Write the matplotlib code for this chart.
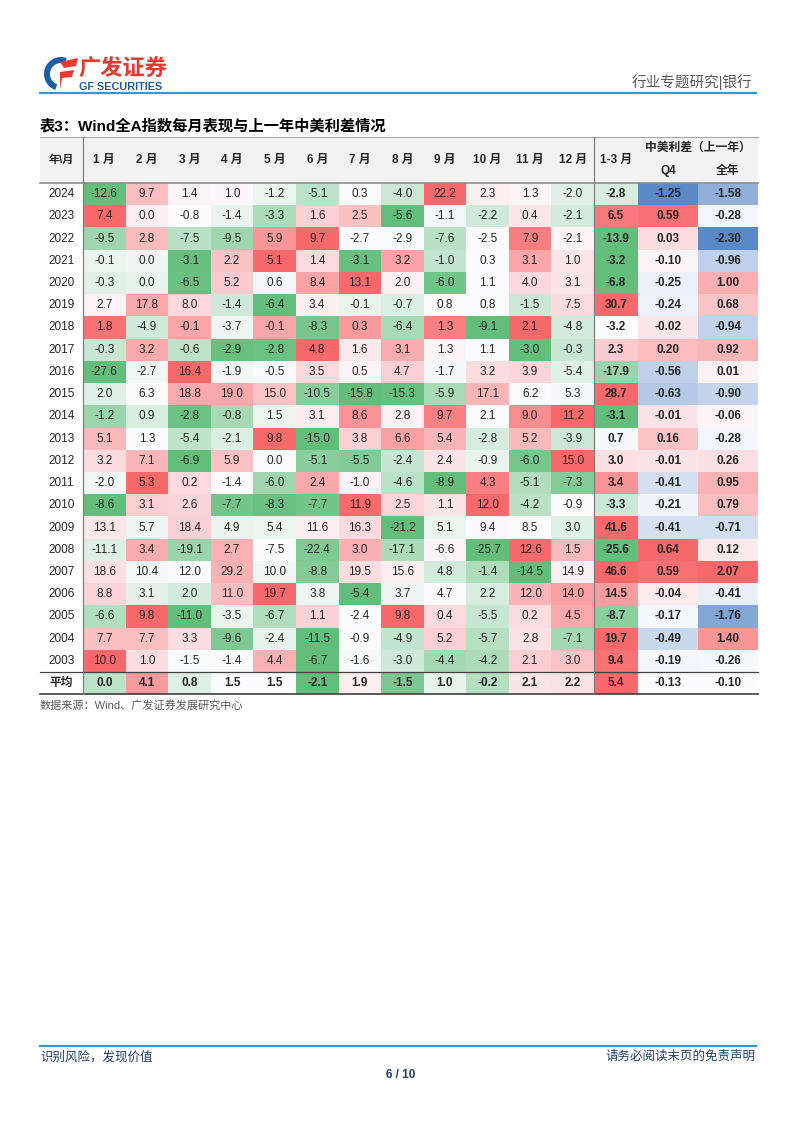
import matplotlib
matplotlib.use("Agg")
import matplotlib.pyplot as plt
import numpy as np
from matplotlib.patches import Rectangle, Wedge, Polygon

plt.rcParams["font.family"] = ["Liberation Sans", "Noto Sans CJK SC"]

# 数据
years = [2024, 2023, 2022, 2021, 2020, 2019, 2018, 2017, 2016, 2015, 2014,
         2013, 2012, 2011, 2010, 2009, 2008, 2007, 2006, 2005, 2004, 2003]
month_labels = [f"{m} 月" for m in range(1, 13)]

monthly = [
    [-12.6, 9.7, 1.4, 1.0, -1.2, -5.1, 0.3, -4.0, 22.2, 2.3, 1.3, -2.0],
    [7.4, 0.0, -0.8, -1.4, -3.3, 1.6, 2.5, -5.6, -1.1, -2.2, 0.4, -2.1],
    [-9.5, 2.8, -7.5, -9.5, 5.9, 9.7, -2.7, -2.9, -7.6, -2.5, 7.9, -2.1],
    [-0.1, 0.0, -3.1, 2.2, 5.1, 1.4, -3.1, 3.2, -1.0, 0.3, 3.1, 1.0],
    [-0.3, 0.0, -6.5, 5.2, 0.6, 8.4, 13.1, 2.0, -6.0, 1.1, 4.0, 3.1],
    [2.7, 17.8, 8.0, -1.4, -6.4, 3.4, -0.1, -0.7, 0.8, 0.8, -1.5, 7.5],
    [1.8, -4.9, -0.1, -3.7, -0.1, -8.3, 0.3, -6.4, 1.3, -9.1, 2.1, -4.8],
    [-0.3, 3.2, -0.6, -2.9, -2.8, 4.8, 1.6, 3.1, 1.3, 1.1, -3.0, -0.3],
    [-27.6, -2.7, 16.4, -1.9, -0.5, 3.5, 0.5, 4.7, -1.7, 3.2, 3.9, -5.4],
    [2.0, 6.3, 18.8, 19.0, 15.0, -10.5, -15.8, -15.3, -5.9, 17.1, 6.2, 5.3],
    [-1.2, 0.9, -2.8, -0.8, 1.5, 3.1, 8.6, 2.8, 9.7, 2.1, 9.0, 11.2],
    [5.1, 1.3, -5.4, -2.1, 9.8, -15.0, 3.8, 6.6, 5.4, -2.8, 5.2, -3.9],
    [3.2, 7.1, -6.9, 5.9, 0.0, -5.1, -5.5, -2.4, 2.4, -0.9, -6.0, 15.0],
    [-2.0, 5.3, 0.2, -1.4, -6.0, 2.4, -1.0, -4.6, -8.9, 4.3, -5.1, -7.3],
    [-8.6, 3.1, 2.6, -7.7, -8.3, -7.7, 11.9, 2.5, 1.1, 12.0, -4.2, -0.9],
    [13.1, 5.7, 18.4, 4.9, 5.4, 11.6, 16.3, -21.2, 5.1, 9.4, 8.5, 3.0],
    [-11.1, 3.4, -19.1, 2.7, -7.5, -22.4, 3.0, -17.1, -6.6, -25.7, 12.6, 1.5],
    [18.6, 10.4, 12.0, 29.2, 10.0, -8.8, 19.5, 15.6, 4.8, -1.4, -14.5, 14.9],
    [8.8, 3.1, 2.0, 11.0, 19.7, 3.8, -5.4, 3.7, 4.7, 2.2, 12.0, 14.0],
    [-6.6, 9.8, -11.0, -3.5, -6.7, 1.1, -2.4, 9.8, 0.4, -5.5, 0.2, 4.5],
    [7.7, 7.7, 3.3, -9.6, -2.4, -11.5, -0.9, -4.9, 5.2, -5.7, 2.8, -7.1],
    [10.0, 1.0, -1.5, -1.4, 4.4, -6.7, -1.6, -3.0, -4.4, -4.2, 2.1, 3.0],
]
q1 = [-2.8, 6.5, -13.9, -3.2, -6.8, 30.7, -3.2, 2.3, -17.9, 28.7, -3.1,
      0.7, 3.0, 3.4, -3.3, 41.6, -25.6, 46.6, 14.5, -8.7, 19.7, 9.4]
spread_q4 = [-1.25, 0.59, 0.03, -0.10, -0.25, -0.24, -0.02, 0.20, -0.56, -0.63, -0.01,
             0.16, -0.01, -0.41, -0.21, -0.41, 0.64, 0.59, -0.04, -0.17, -0.49, -0.19]
spread_year = [-1.58, -0.28, -2.30, -0.96, 1.00, 0.68, -0.94, 0.92, 0.01, -0.90, -0.06,
               -0.28, 0.26, 0.95, 0.79, -0.71, 0.12, 2.07, -0.41, -1.76, 1.40, -0.26]
avg_monthly = [0.0, 4.1, 0.8, 1.5, 1.5, -2.1, 1.9, -1.5, 1.0, -0.2, 2.1, 2.2]
avg_q1 = 5.4
avg_q4 = -0.13
avg_year = -0.10

GREEN = np.array([99, 190, 123]) / 255
WHITE = np.array([252, 252, 255]) / 255
RED = np.array([248, 105, 107]) / 255
BLUE = np.array([90, 138, 198]) / 255


def scale_colors(vals, low):
    """Excel 式三色刻度：最小值 -> low，中位数 -> 白，最大值 -> 红"""
    vals = np.asarray(vals, dtype=float)
    lo, mid, hi = vals.min(), np.percentile(vals, 50), vals.max()
    out = []
    for v in vals:
        if v <= mid:
            t = 0 if mid == lo else (mid - v) / (mid - lo)
            out.append(WHITE + (low - WHITE) * t)
        else:
            t = 0 if hi == mid else (v - mid) / (hi - mid)
            out.append(WHITE + (RED - WHITE) * t)
    return out


# 布局（像素）
W, H = 802, 1133
fig = plt.figure(figsize=(W / 100, H / 100), dpi=100)
ax = fig.add_axes([0, 0, 1, 1])
ax.set_xlim(0, W)
ax.set_ylim(H, 0)
ax.axis("off")

x_left, x_year = 40, 83
month_w = (594 - x_year) / 12
col_edges = [x_left, x_year] + [x_year + month_w * (i + 1) for i in range(12)] + [638, 698, 758]
y_top, y_head = 137, 183
row_h = (672 - y_head) / len(years)
row_tops = [y_head + row_h * i for i in range(len(years) + 1)]
y_bottom = row_tops[-1] + 22

TXT = "#262626"
FS = 8.5
HFS = 8.5

# 表头
ax.add_patch(Rectangle((x_left, y_top), col_edges[-1] - x_left, y_head - y_top,
                       facecolor="#F2F2F2", edgecolor="none"))
head_y = (y_top + y_head) / 2
ax.text((col_edges[0] + col_edges[1]) / 2, head_y, "年\\月", ha="center", va="center",
        fontsize=HFS - 0.5, fontweight="bold", color=TXT)
for i, lab in enumerate(month_labels):
    ax.text((col_edges[i + 1] + col_edges[i + 2]) / 2, head_y, lab, ha="center",
            va="center", fontsize=HFS, fontweight="bold", color=TXT)
ax.text((col_edges[13] + col_edges[14]) / 2, head_y, "1-3 月", ha="center", va="center",
        fontsize=HFS, fontweight="bold", color=TXT)
ax.text((col_edges[14] + col_edges[16]) / 2, 148, "中美利差（上一年）", ha="center",
        va="center", fontsize=HFS, fontweight="bold", color=TXT)
ax.text((col_edges[14] + col_edges[15]) / 2, 171, "Q4", ha="center", va="center",
        fontsize=HFS, fontweight="bold", color=TXT)
ax.text((col_edges[15] + col_edges[16]) / 2, 171, "全年", ha="center", va="center",
        fontsize=HFS, fontweight="bold", color=TXT)

# 数据行
q4_cols = scale_colors(spread_q4, BLUE)
yr_cols = scale_colors(spread_year, BLUE)
rows = [(str(y), monthly[i] + [q1[i]], spread_q4[i], spread_year[i], q4_cols[i], yr_cols[i])
        for i, y in enumerate(years)]
rows.append(("平均", avg_monthly + [avg_q1], avg_q4, avg_year, WHITE, WHITE))

for r, (label, vals13, v4, vy, c4, cy) in enumerate(rows):
    top = row_tops[r]
    hgt = row_h if r < len(years) else y_bottom - row_tops[-1]
    cy_txt = top + hgt / 2
    is_avg = r == len(years)
    cols13 = scale_colors(vals13, GREEN)
    for j, (v, c) in enumerate(zip(vals13, cols13)):
        x0, x1 = col_edges[j + 1], col_edges[j + 2]
        ax.add_patch(Rectangle((x0, top), x1 - x0, hgt, facecolor=c, edgecolor="none"))
        bold = is_avg or j == 12
        ax.text((x0 + x1) / 2, cy_txt, f"{v:.1f}", ha="center", va="center",
                fontsize=FS, color=TXT, fontweight="bold" if bold else "normal")
    for j, (v, c) in enumerate([(v4, c4), (vy, cy)]):
        x0, x1 = col_edges[14 + j], col_edges[15 + j]
        ax.add_patch(Rectangle((x0, top), x1 - x0, hgt, facecolor=c, edgecolor="none"))
        ax.text((x0 + x1) / 2, cy_txt, f"{v:.2f}", ha="center", va="center",
                fontsize=FS, color=TXT, fontweight="bold")
    ax.text((col_edges[0] + col_edges[1]) / 2, cy_txt, label, ha="center", va="center",
            fontsize=FS, color=TXT, fontweight="bold" if is_avg else "normal")

# 表格线
ax.plot([x_left, col_edges[-1]], [y_top, y_top], color="#A6A6A6", lw=0.8)
ax.plot([x_left, col_edges[-1]], [y_head, y_head], color="#8C8C8C", lw=1.2)
ax.plot([x_left, col_edges[-1]], [row_tops[-1], row_tops[-1]], color="#404040", lw=0.9)
ax.plot([x_left, col_edges[-1]], [y_bottom, y_bottom], color="#404040", lw=1.2)
for xv in (x_year, col_edges[13]):
    ax.plot([xv, xv], [y_top, y_bottom], color="#7F7F7F", lw=0.9)

# 标题与来源
ax.text(40, 126, "表3：Wind全A指数每月表现与上一年中美利差情况", ha="left", va="center",
        fontsize=11, fontweight="bold", color="#000000")
ax.text(40, 705, "数据来源：Wind、广发证券发展研究中心", ha="left", va="center",
        fontsize=8, color="#595959")

# 页眉
ax.plot([40, 756], [93, 93], color="#2E9BD6", lw=1.6)
ax.text(752, 82, "行业专题研究|银行", ha="right", va="center", fontsize=10.5, color="#595959")
ax.add_patch(Wedge((61, 74), 17, 110, 290, width=6, facecolor="#1F5EA8", edgecolor="none"))
ax.add_patch(Polygon([[60, 62], [78, 58], [76, 66], [64, 68]], closed=True,
                     facecolor="#E8382F", edgecolor="none"))
ax.add_patch(Polygon([[60, 72], [74, 70], [72, 77], [62, 78], [60, 90]], closed=True,
                     facecolor="#E8382F", edgecolor="none"))
ax.text(78, 70, "广发证券", ha="left", va="center", fontsize=16, fontweight="bold",
        color="#E8382F")
ax.text(79, 87, "GF SECURITIES", ha="left", va="center", fontsize=7.8, fontweight="bold",
        color="#1F5EA8")

# 页脚
ax.plot([40, 756], [1046, 1046], color="#2E9BD6", lw=1.6)
ax.text(40, 1057, "识别风险，发现价值", ha="left", va="center", fontsize=9, color="#1F3E72")
ax.text(756, 1057, "请务必阅读末页的免责声明", ha="right", va="center", fontsize=9,
        color="#1F3E72")
ax.text(401, 1075, "6 / 10", ha="center", va="center", fontsize=8.5, fontweight="bold",
        color="#1F3E72")

fig.savefig("out.png", dpi=100)
